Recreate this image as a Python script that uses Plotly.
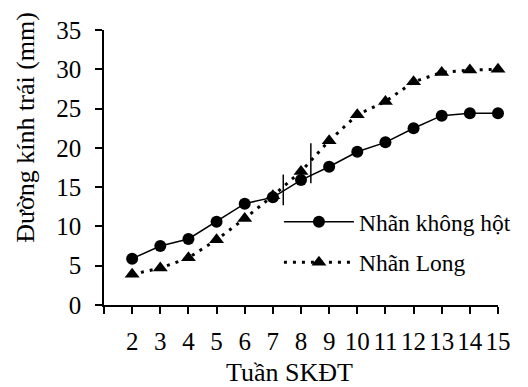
import plotly.graph_objects as go

weeks = [2, 3, 4, 5, 6, 7, 8, 9, 10, 11, 12, 13, 14, 15]
khong_hot = [5.9, 7.5, 8.4, 10.6, 12.9, 13.7, 15.9, 17.6, 19.5, 20.7, 22.5, 24.1, 24.4, 24.4]
nhan_long = [3.9, 4.7, 6.0, 8.3, 11.0, 13.9, 17.0, 20.9, 24.2, 25.9, 28.4, 29.6, 29.9, 30.0]
x_tick_vals = [1] + weeks
x_tick_text = [""] + [str(w) for w in weeks]
y_tick_vals = [0, 5, 10, 15, 20, 25, 30, 35]

# short vertical marker lines drawn on the chart
vline_x = [7.37, 8.35]
vline_y0 = [12.7, 15.5]
vline_y1 = [16.6, 20.6]

FONT = "Liberation Serif"

fig = go.Figure()
fig.add_trace(go.Scatter(
    x=weeks, y=khong_hot, name="Nhãn không hột", mode="lines+markers",
    line=dict(color="black", width=1.5),
    marker=dict(symbol="circle", size=12, color="black"),
    cliponaxis=False, legendgroup="a",
))
fig.add_trace(go.Scatter(
    x=weeks, y=nhan_long, name="Nhãn Long", mode="lines+markers",
    line=dict(color="black", width=3, dash="3px,6px"),
    marker=dict(symbol="triangle-up", size=13, color="black"),
    cliponaxis=False, legendgroup="b",
))
for xv, a, b in zip(vline_x, vline_y0, vline_y1):
    fig.add_trace(go.Scatter(
        x=[xv, xv], y=[a, b], mode="lines", showlegend=False,
        line=dict(color="black", width=1.5), hoverinfo="skip",
    ))

fig.add_annotation(
    text="Đường kính trái (mm)", textangle=-90, xref="paper", yref="paper",
    x=-0.2, y=0.645, xanchor="center", yanchor="middle", showarrow=False,
    font=dict(family=FONT, size=26, color="black"),
)
fig.add_annotation(
    text="Tuần SKĐT", xref="paper", yref="paper",
    x=0.4715, y=-0.247, xanchor="center", yanchor="middle", showarrow=False,
    font=dict(family=FONT, size=26, color="black"),
)

fig.update_layout(
    width=528, height=387,
    margin=dict(l=104, r=26, t=30, b=82),
    paper_bgcolor="white", plot_bgcolor="white",
    font=dict(family=FONT, size=25, color="black"),
    showlegend=True,
    legend=dict(
        x=0.444, y=0.382, xanchor="left", yanchor="top",
        bgcolor="rgba(0,0,0,0)", font=dict(family=FONT, size=23.5),
        traceorder="grouped", tracegroupgap=7, itemwidth=70,
    ),
    xaxis=dict(
        range=[1, 15], tickmode="array", tickvals=x_tick_vals, ticktext=x_tick_text,
        tickangle=0, showgrid=False, zeroline=False, automargin=False,
        showline=True, linecolor="black", linewidth=1.5,
        ticks="outside", ticklen=7, tickwidth=1.5, tickcolor="black",
        ticklabelstandoff=6,
    ),
    yaxis=dict(
        range=[0, 35], tickmode="array", tickvals=y_tick_vals,
        showgrid=False, zeroline=False, automargin=False,
        showline=True, linecolor="black", linewidth=1.5,
        ticks="outside", ticklen=7, tickwidth=1.5, tickcolor="black",
        ticklabelstandoff=9,
    ),
)

fig.write_html(
    "out.html",
    config={"displayModeBar": False},
    post_script="document.body.style.margin='0';document.body.style.padding='0';",
)
